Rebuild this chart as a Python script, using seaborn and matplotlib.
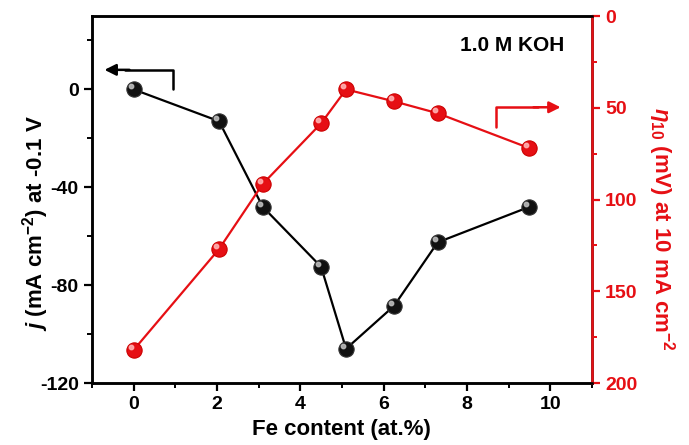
import matplotlib
matplotlib.use("Agg")
import matplotlib.pyplot as plt
import seaborn as sns
import pandas as pd

fe_content = [0, 2.05, 3.1, 4.5, 5.1, 6.25, 7.3, 9.5]
current_j = [0, -13, -48, -72.5, -106, -88.5, -62.5, -48]
overpotential = [182, 127, 91.5, 58.5, 40, 46.5, 53, 72]

sns.set_style("ticks")
plt.rcParams['font.family'] = ['Liberation Sans', 'DejaVu Sans']
plt.rcParams['font.weight'] = 'bold'
plt.rcParams['text.color'] = 'black'
plt.rcParams['axes.labelcolor'] = 'black'
plt.rcParams['xtick.color'] = 'black'
plt.rcParams['ytick.color'] = 'black'
plt.rcParams['axes.unicode_minus'] = False
plt.rcParams['mathtext.fontset'] = 'custom'
plt.rcParams['mathtext.rm'] = 'Liberation Sans:bold'
plt.rcParams['mathtext.bf'] = 'Liberation Sans:bold'
plt.rcParams['mathtext.it'] = 'Liberation Sans:italic:bold'
plt.rcParams['mathtext.default'] = 'bf'

df = pd.DataFrame({"fe": fe_content, "j": current_j, "eta": overpotential})

fig = plt.figure(figsize=(6.89, 4.45), dpi=100)
ax = fig.add_axes([0.1335, 0.1393, 0.7255, 0.8247])
ax2 = ax.twinx()

red = "#e60f14"
sns.lineplot(data=df, x="fe", y="j", ax=ax, color="black", lw=1.6,
             marker="o", markersize=11, markerfacecolor="#111111",
             markeredgecolor="#333333", markeredgewidth=0.8)
sns.lineplot(data=df, x="fe", y="eta", ax=ax2, color=red, lw=1.6,
             marker="o", markersize=11, markerfacecolor=red,
             markeredgecolor="#cc0000", markeredgewidth=0.8)

# highlights on spheres
from matplotlib.transforms import ScaledTranslation
off = ScaledTranslation(-2.2/72, 2.2/72, fig.dpi_scale_trans)
ax.plot(df["fe"], df["j"], ls="none", marker="o", markersize=3.2,
        color="#bbbbbb", alpha=0.9, transform=ax.transData + off, zorder=5)
ax2.plot(df["fe"], df["eta"], ls="none", marker="o", markersize=3.2,
         color="#ffb0b0", alpha=0.9, transform=ax2.transData + off, zorder=5)

ax.set_xlim(-1, 11)
ax.set_ylim(-120, 30)
ax2.set_ylim(200, 0)

ax.set_xticks([0, 2, 4, 6, 8, 10])
ax.set_xticks(range(-1, 12), minor=True)
ax.set_yticks([-120, -80, -40, 0])
ax.set_yticks(range(-120, 31, 20), minor=True)
ax2.set_yticks([0, 50, 100, 150, 200])
ax2.set_yticks(range(0, 201, 25), minor=True)

for a in (ax, ax2):
    for s in a.spines.values():
        s.set_linewidth(1.8)
        s.set_color("black")
ax2.spines["right"].set_color(red)

ax.tick_params(axis="both", which="major", direction="out", length=6, width=1.6,
               labelsize=14, colors="black")
ax.tick_params(axis="both", which="minor", direction="out", length=3.5, width=1.4)
ax2.tick_params(axis="y", which="major", direction="out", length=6, width=1.6,
                labelsize=14, colors=red)
ax2.tick_params(axis="y", which="minor", direction="out", length=3.5, width=1.4, colors=red)
for lab in ax.get_xticklabels() + ax.get_yticklabels() + ax2.get_yticklabels():
    lab.set_fontweight("bold")

ax.set_xlabel("Fe content (at.%)", fontsize=16, fontweight="bold", labelpad=4,
              color="black")
ax.set_ylabel(r"$\mathit{j}$ (mA cm$^{-2}$) at -0.1 V", fontsize=16,
              fontweight="bold", labelpad=-8, color="black")
ax2.set_ylabel(r"$\mathit{\eta}_{10}$ (mV) at 10 mA cm$^{-2}$", fontsize=16,
               fontweight="bold", color=red, rotation=270, labelpad=28)
ax.yaxis.label.set_y(0.435)
ax2.yaxis.label.set_y(0.42)

ax.text(0.945, 0.921, "1.0 M KOH", transform=ax.transAxes, ha="right", va="center",
        fontsize=15, fontweight="bold", color="black")

# direction arrows
ax.plot([0.95, 0.95, -0.2], [0, 8, 8], color="black", lw=1.8)
ax.annotate("", xy=(-0.7, 8), xytext=(-0.1, 8),
            arrowprops=dict(arrowstyle="-|>", color="black", lw=1.8,
                            mutation_scale=17, shrinkA=0, shrinkB=0))
ax.plot([8.7, 8.7, 9.7], [-15.5, -7.3, -7.3], color=red, lw=1.8)
ax.annotate("", xy=(10.25, -7.3), xytext=(9.6, -7.3),
            arrowprops=dict(arrowstyle="-|>", color=red, lw=1.8,
                            mutation_scale=17, shrinkA=0, shrinkB=0))

fig.savefig("out.png", dpi=100)
